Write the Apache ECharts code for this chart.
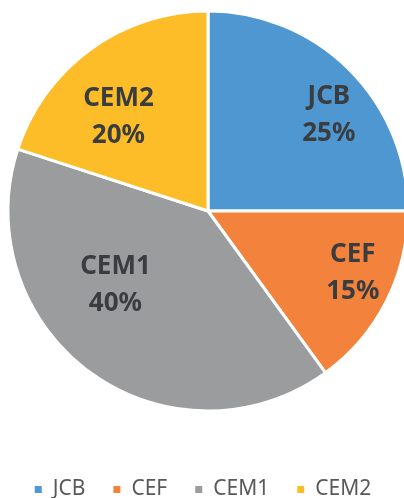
<!DOCTYPE html>
<html>
<head>
    <meta charset="utf-8">
    <style>
        body { margin: 0; background-color: #fff; }
        #main { width: 404px; height: 498px; }
    </style>
    <script src="https://cdn.jsdelivr.net/npm/echarts@6/dist/echarts.min.js"></script>
</head>
<body>
    <div id="main"></div>
    <script type="text/javascript">
        var categories = ['JCB', 'CEF', 'CEM1', 'CEM2'];
        var shares = [25, 15, 40, 20];
        var colors = ['#4F97D0', '#F3823C', '#9A9C9D', '#FDBD28'];

        // nudge labels where Excel's best fit put them
        var labelOffsets = [[48, -23], [53, 15], [-32, -9], [-29, -11]];

        var myChart = echarts.init(document.getElementById('main'));

        var pieData = [];
        for (var i = 0; i < categories.length; i++) {
            pieData.push({
                name: categories[i],
                value: shares[i],
                itemStyle: { color: colors[i] },
                label: { offset: labelOffsets[i] }
            });
        }

        var option = {
            animation: false,
            legend: {
                data: categories,
                left: 'center',
                top: 474,
                icon: 'rect',
                itemWidth: 9,
                itemHeight: 9,
                itemGap: 26,
                textStyle: {
                    fontFamily: 'Noto Sans',
                    fontSize: 21,
                    color: '#595959',
                    padding: [0, 0, 0, 5]
                }
            },
            series: [
                {
                    type: 'pie',
                    center: [208, 211],
                    radius: 200,
                    startAngle: 90,
                    clockwise: true,
                    data: pieData,
                    itemStyle: {
                        borderColor: '#fff',
                        borderWidth: 3
                    },
                    label: {
                        show: true,
                        position: 'inside',
                        formatter: '{b}\n{d}%',
                        fontFamily: 'Noto Sans',
                        fontWeight: 'bold',
                        fontSize: 26,
                        lineHeight: 37,
                        color: '#3A3D40'
                    },
                    labelLine: { show: false },
                    emphasis: { disabled: true }
                }
            ]
        };

        myChart.setOption(option);
    </script>
</body>
</html>
